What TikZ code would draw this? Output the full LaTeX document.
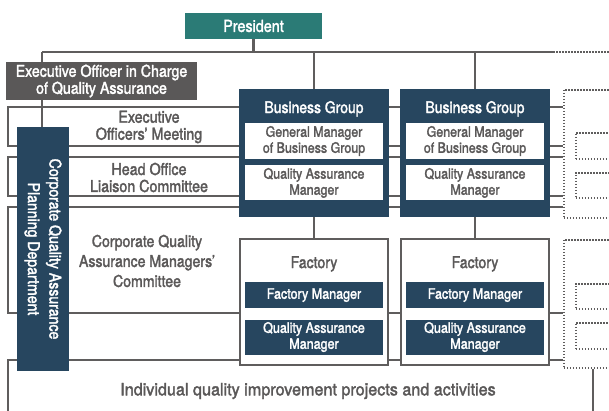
\documentclass[tikz,border=0pt]{standalone}
\usepackage{fontspec}
\setmainfont{TeX Gyre Heros}[FakeStretch=0.87, FakeBold=2]
\newfontfamily\widefont{TeX Gyre Heros}[FakeStretch=0.95, FakeBold=2]
\usetikzlibrary{positioning}
\definecolor{qaTeal}{HTML}{2B7B76}
\definecolor{qaNavy}{HTML}{27465F}
\definecolor{qaGray}{HTML}{5A5858}
\definecolor{qaLine}{HTML}{5F5D5D}

\begin{document}
\begin{tikzpicture}[x=1pt, y=-1pt,
  conn/.style={qaLine, line width=2.4pt},
  band/.style={qaLine, line width=1.8pt},
  dotline/.style={qaLine, line width=1.7pt, dash pattern=on 1.5pt off 1.5pt},
  dotbox/.style={draw=qaLine, line width=1.7pt, dash pattern=on 1.5pt off 1.5pt, anchor=north west, inner sep=0pt},
  headbox/.style={fill=qaTeal, text=white, minimum width=137pt, minimum height=26pt, inner sep=0pt, font=\fontsize{16.5}{18}\selectfont},
  execbox/.style={fill=qaGray, text=white, align=center, minimum width=191pt, minimum height=38pt, inner sep=0pt, font=\fontsize{16.3}{17}\selectfont},
  dept/.style={fill=qaNavy, text=white, align=center, rotate=-90, minimum width=244pt, minimum height=52pt, inner sep=0pt, font=\fontsize{16.2}{21.5}\selectfont},
  group/.style={fill=qaNavy, minimum width=150pt, minimum height=128pt, inner sep=0pt},
  factory/.style={draw=qaLine, fill=white, line width=2.2pt, minimum width=148pt, minimum height=126pt, inner sep=0pt},
  gtitle/.style={text=white, inner sep=0pt, font=\fontsize{16}{18}\selectfont},
  ftitle/.style={text=qaGray, inner sep=0pt, font=\fontsize{16.2}{18}\selectfont},
  inbox/.style={fill=white, text=qaGray, align=center, minimum width=138pt, inner sep=0pt, font=\fontsize{14.3}{16}\selectfont},
  darkbox/.style={fill=qaNavy, text=white, align=center, minimum width=138pt, inner sep=0pt, font=\fontsize{14.4}{16}\selectfont},
  bandtext/.style={text=qaGray, align=center, font=\fontsize{16.4}{17}\selectfont}
]
\clip (0,0) rectangle (609,410);

% committee bands, behind the boxes
\draw[band] (563,107) -| (8,146) -- (563,146);
\draw[band] (563,157) -| (8,196) -- (563,196);
\draw[band] (563,207) -| (8,313) -- (563,313);
\draw[band] (563,360) -| (8,415);

% further groups, cut off at the right
\node[dotbox, minimum width=80pt, minimum height=128pt] (moreg) at (563,89) {};
\node[dotbox, minimum width=60pt, minimum height=26pt] (moreg1) at (575,132) {};
\node[dotbox, minimum width=60pt, minimum height=25pt] (moreg2) at (575,172) {};
\node[dotbox, minimum width=80pt, minimum height=128pt] (moref) at (563,239) {};
\node[dotbox, minimum width=60pt, minimum height=25pt] (moref1) at (575,283) {};
\node[dotbox, minimum width=60pt, minimum height=26pt] (moref2) at (575,322) {};
\draw[band] (moref.south west) ++(30,0) -- ++(0,50);

\node[headbox] (pres) at (253.5,26) {President};
\node[execbox] (exec) at (101.5,81) {Executive Officer in Charge\\of Quality Assurance};

\node[group] (bg1) at (314,153) {};
\node[group] (bg2) at (475,153) {};
\node[factory] (fac1) at (314,302) {};
\node[factory] (fac2) at (475,302) {};

\node[gtitle] (bg1t) at (bg1.north) [yshift=-20pt] {Business Group};
\node[inbox, minimum height=36pt, below=34pt of bg1.north] (gm1) {General Manager\\of Business Group};
\node[inbox, minimum height=35pt, below=6pt of gm1] (qa1) {Quality Assurance\\Manager};
\node[gtitle] (bg2t) at (bg2.north) [yshift=-20pt] {Business Group};
\node[inbox, minimum height=36pt, below=34pt of bg2.north] (gm2) {General Manager\\of Business Group};
\node[inbox, minimum height=35pt, below=6pt of gm2] (qa2) {Quality Assurance\\Manager};

\node[ftitle] (fac1t) at (fac1.north) [yshift=-26pt] {Factory};
\node[darkbox, minimum height=26pt, below=44pt of fac1.north] (fm1) {Factory Manager};
\node[darkbox, minimum height=35pt, below=11pt of fm1] (fq1) {Quality Assurance\\Manager};
\node[ftitle] (fac2t) at (fac2.north) [yshift=-26pt] {Factory};
\node[darkbox, minimum height=26pt, below=44pt of fac2.north] (fm2) {Factory Manager};
\node[darkbox, minimum height=35pt, below=11pt of fm2] (fq2) {Quality Assurance\\Manager};

\node[dept] (cqa) at (43,249) {Corporate Quality Assurance\\Planning Department};

\node[bandtext] (eom) at (149,127) {Executive\\Officers’ Meeting};
\node[bandtext] (holc) at (149,177.5) {Head Office\\Liaison Committee};
\node[bandtext, font=\fontsize{16.2}{20}\selectfont] (cqamc) at (147,261) {Corporate Quality\\Assurance Managers’\\Committee};
\node[bandtext, font=\widefont\fontsize{17}{18}\selectfont] (iqip) at (308,391) {Individual quality improvement projects and activities};

% reporting lines
\coordinate (busL) at (42,52);
\coordinate (busR) at (553,52);
\coordinate (busEnd) at (612,52);
\draw[conn] (busL) -- (busR);
\draw[dotline] (busR) -- (busEnd);
\draw[conn] (pres) -- (pres |- busL);
\draw[conn] (busL) -- (busL |- exec.north);
\draw[conn] (busL |- exec.south) -- (busL |- cqa.west);
\draw[conn] (bg1 |- busL) -- (bg1);
\draw[conn] (bg2 |- busL) -- (bg2);
\draw[conn] (bg1) -- (fac1);
\draw[conn] (bg2) -- (fac2);

\end{tikzpicture}
\end{document}
